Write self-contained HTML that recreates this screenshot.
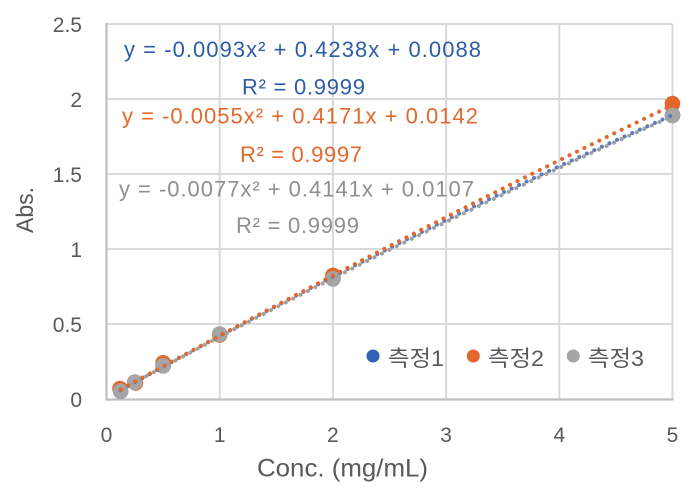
<!DOCTYPE html>
<html>
<head>
<meta charset="utf-8">
<style>
html,body{margin:0;padding:0;background:#fff;}
svg{display:block;}
text{font-family:"Liberation Sans","Noto Sans CJK KR",sans-serif;}
</style>
</head>
<body>
<svg width="692" height="493" viewBox="0 0 692 493" xmlns="http://www.w3.org/2000/svg">
  <rect width="692" height="493" fill="#fff"/>
  <!-- gridlines -->
  <g stroke="#d9d9d9" stroke-width="2" fill="none">
    <line x1="106.5" y1="24" x2="672.5" y2="24"/>
    <line x1="106.5" y1="99" x2="672.5" y2="99"/>
    <line x1="106.5" y1="174" x2="672.5" y2="174"/>
    <line x1="106.5" y1="249" x2="672.5" y2="249"/>
    <line x1="106.5" y1="324" x2="672.5" y2="324"/>
    <line x1="219.7" y1="24" x2="219.7" y2="399.5"/>
    <line x1="332.9" y1="24" x2="332.9" y2="399.5"/>
    <line x1="446.1" y1="24" x2="446.1" y2="399.5"/>
    <line x1="559.3" y1="24" x2="559.3" y2="399.5"/>
    <line x1="672.5" y1="24" x2="672.5" y2="399.5"/>
  </g>
  <!-- axes -->
  <g stroke="#bfbfbf" stroke-width="2.2" fill="none">
    <line x1="106.5" y1="23" x2="106.5" y2="400"/>
    <line x1="105.5" y1="399.5" x2="673.5" y2="399.5"/>
  </g>

  <!-- markers: blue (mostly hidden) -->
  <g fill="#3063B3">
    <circle cx="120.65" cy="391.2" r="7.8"/>
    <circle cx="134.8" cy="382.2" r="7.8"/>
    <circle cx="163.1" cy="365.8" r="7.8"/>
    <circle cx="219.7" cy="334.2" r="7.8"/>
    <circle cx="332.9" cy="278.8" r="7.8"/>
    <circle cx="672.5" cy="115.2" r="7.8"/>
  </g>
  <!-- markers: orange -->
  <g fill="#E2672F">
    <circle cx="120.0" cy="388.5" r="7.8"/>
    <circle cx="135.5" cy="383" r="7.8"/>
    <circle cx="163.1" cy="362.8" r="7.8"/>
    <circle cx="219.7" cy="335" r="7.8"/>
    <circle cx="332.9" cy="275.4" r="7.8"/>
    <circle cx="672.5" cy="103.6" r="7.8"/>
  </g>
  <!-- markers: gray -->
  <g fill="#A5A5A5">
    <circle cx="120.65" cy="391.2" r="7.8"/>
    <circle cx="134.8" cy="382.2" r="7.8"/>
    <circle cx="163.1" cy="365.8" r="7.8"/>
    <circle cx="219.7" cy="334.2" r="7.8"/>
    <circle cx="332.9" cy="278.8" r="7.8"/>
    <circle cx="672.5" cy="115.6" r="7.8"/>
  </g>

  <!-- trendlines (quadratic bezier exact) -->
  <g fill="none" stroke-width="4" stroke-linecap="round" stroke-dasharray="0.1 8.2">
    <path d="M120.65,390.26 Q396.57,236.15 672.5,115.2" stroke="#5B7DBB"/>
    <path d="M120.65,389.56 Q396.57,237.56 672.5,105.17" stroke="#E2672F"/>
    <path d="M120.65,390.15 Q396.57,239.45 672.5,116.2" stroke="#A0A0A0" stroke-dashoffset="4"/>
  </g>

  <!-- equations -->
  <g font-size="22">
    <text x="124" y="57" fill="#2E5DA6" textLength="357" lengthAdjust="spacing">y = -0.0093x² + 0.4238x + 0.0088</text>
    <text x="242" y="94.5" fill="#2E5DA6" textLength="123" lengthAdjust="spacing">R² = 0.9999</text>
    <text x="122" y="123.5" fill="#E2692D" textLength="356" lengthAdjust="spacing">y = -0.0055x² + 0.4171x + 0.0142</text>
    <text x="240" y="162" fill="#E2692D" textLength="122" lengthAdjust="spacing">R² = 0.9997</text>
    <text x="119" y="196.5" fill="#8F8F8F" textLength="355" lengthAdjust="spacing">y = -0.0077x² + 0.4141x + 0.0107</text>
    <text x="236" y="233" fill="#8F8F8F" textLength="123" lengthAdjust="spacing">R² = 0.9999</text>
  </g>

  <!-- y tick labels -->
  <g font-size="21" fill="#595959" text-anchor="end">
    <text x="82" y="32">2.5</text>
    <text x="82" y="107">2</text>
    <text x="82" y="182">1.5</text>
    <text x="82" y="257">1</text>
    <text x="82" y="332">0.5</text>
    <text x="82" y="407">0</text>
  </g>
  <!-- x tick labels -->
  <g font-size="21" fill="#595959" text-anchor="middle">
    <text x="106.5" y="442">0</text>
    <text x="219.7" y="442">1</text>
    <text x="332.9" y="442">2</text>
    <text x="446.1" y="442">3</text>
    <text x="559.3" y="442">4</text>
    <text x="672.5" y="442">5</text>
  </g>

  <!-- axis titles -->
  <text x="257" y="476.5" font-size="25" fill="#595959" textLength="171" lengthAdjust="spacingAndGlyphs">Conc. (mg/mL)</text>
  <text transform="translate(33,210) rotate(-90)" text-anchor="middle" font-size="24" fill="#595959" textLength="46" lengthAdjust="spacingAndGlyphs">Abs.</text>

  <!-- legend -->
  <circle cx="373" cy="356" r="6.5" fill="#3063B3"/>
  <circle cx="473.3" cy="356" r="6.5" fill="#E2672F"/>
  <circle cx="573.3" cy="356" r="6.5" fill="#A5A5A5"/>
  <g font-size="22" fill="#595959">
    <text x="388" y="366" textLength="56" lengthAdjust="spacingAndGlyphs">측정1</text>
    <text x="488" y="366" textLength="56" lengthAdjust="spacingAndGlyphs">측정2</text>
    <text x="588" y="366" textLength="56" lengthAdjust="spacingAndGlyphs">측정3</text>
  </g>
</svg>
</body>
</html>
